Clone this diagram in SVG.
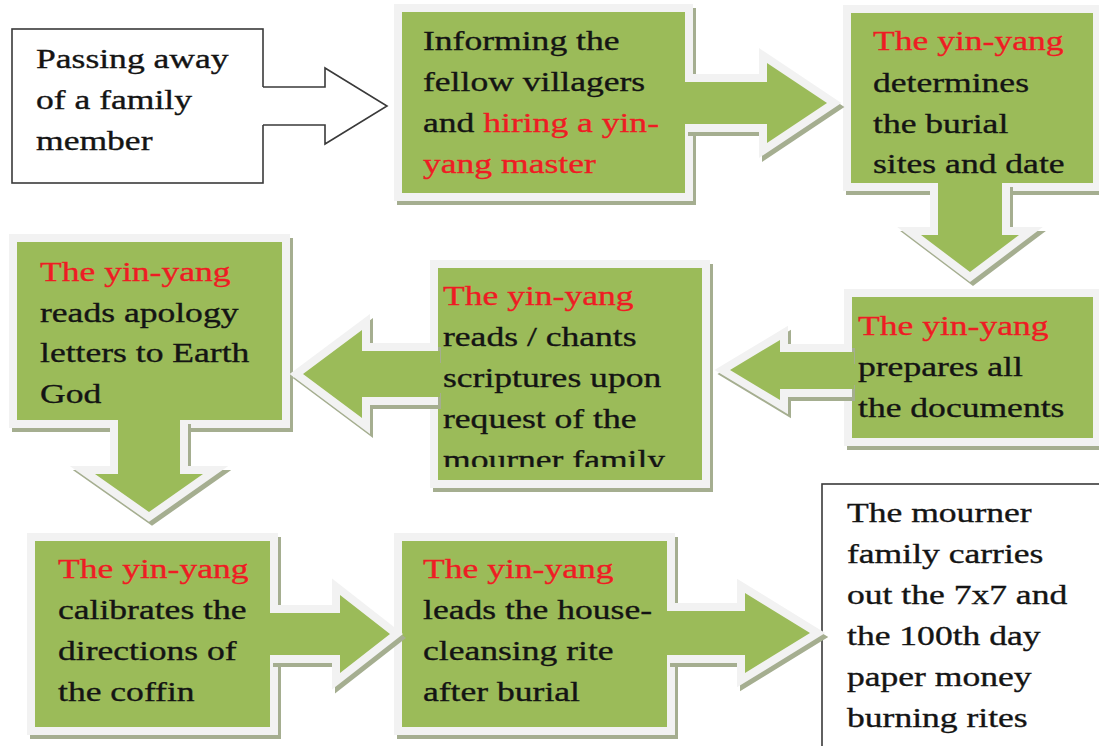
<svg xmlns="http://www.w3.org/2000/svg" width="1099" height="746" viewBox="0 0 1099 746">
<style>
.sh{fill:#a5ae90;stroke:#a5ae90;stroke-width:16;stroke-linejoin:miter}
.bd{fill:#9bbb59;stroke:#f2f2f2;stroke-width:16;stroke-linejoin:miter;paint-order:stroke}
.shl{fill:none;stroke:#a5ae90;stroke-width:16;stroke-linejoin:miter}
.bdl{fill:none;stroke:#f2f2f2;stroke-width:16;stroke-linejoin:miter}
.gf{fill:#9bbb59;stroke:none}
.wb{fill:#ffffff;stroke:#3a3a3a;stroke-width:1.6}
.t{font-family:"Liberation Serif","Times New Roman",serif;font-size:28px;fill:#141414;stroke:#141414;stroke-width:0.35}
.r{fill:#ee1c24;stroke:#ee1c24}
</style>
<defs>
<clipPath id="clip5"><rect x="430" y="268" width="280" height="199"/></clipPath>
</defs>
<rect width="1099" height="746" fill="#ffffff"/>

<g id="node1">
<rect class="wb" x="12" y="29" width="251" height="154"/>
<text class="t" transform="translate(36,0) scale(1.27,1)"><tspan x="0" y="68">Passing away</tspan><tspan x="0" y="109">of a family</tspan><tspan x="0" y="150">member</tspan></text>
</g>

<g id="node2">
<rect class="sh" x="405" y="16" width="283" height="181"/>
<rect class="bd" x="402" y="12" width="283" height="181"/>
<text class="t" transform="translate(423,0) scale(1.27,1)"><tspan x="0" y="50">Informing the</tspan><tspan x="0" y="91">fellow villagers</tspan><tspan x="0" y="132">and <tspan class="r">hiring a yin-</tspan></tspan><tspan x="0" y="173" class="r">yang master</tspan></text>
</g>

<g id="node3">
<rect class="sh" x="854" y="17" width="242" height="170"/>
<rect class="bd" x="851" y="13" width="242" height="170"/>
<text class="t" transform="translate(873,0) scale(1.27,1)"><tspan x="0" y="50" class="r">The yin-yang</tspan><tspan x="0" y="92">determines</tspan><tspan x="0" y="133">the burial</tspan><tspan x="0" y="173">sites and date</tspan></text>
</g>

<g id="node4">
<rect class="sh" x="855" y="301" width="241" height="141"/>
<rect class="bd" x="852" y="297" width="241" height="141"/>
<text class="t" transform="translate(858,0) scale(1.27,1)"><tspan x="0" y="335" class="r">The yin-yang</tspan><tspan x="0" y="376">prepares all</tspan><tspan x="0" y="417">the documents</tspan></text>
</g>

<g id="node5">
<rect class="sh" x="441" y="272" width="264" height="212"/>
<rect class="bd" x="438" y="268" width="264" height="212"/>
<g clip-path="url(#clip5)">
<text class="t" transform="translate(443,0) scale(1.27,1)"><tspan x="0" y="305" class="r">The yin-yang</tspan><tspan x="0" y="346">reads / chants</tspan><tspan x="0" y="387">scriptures upon</tspan><tspan x="0" y="428">request of the</tspan><tspan x="0" y="469">mourner family</tspan></text>
</g>
</g>

<g id="node6">
<rect class="sh" x="20" y="246" width="265" height="178"/>
<rect class="bd" x="17" y="242" width="265" height="178"/>
<text class="t" transform="translate(40,0) scale(1.27,1)"><tspan x="0" y="281" class="r">The yin-yang</tspan><tspan x="0" y="322">reads apology</tspan><tspan x="0" y="362">letters to Earth</tspan><tspan x="0" y="403">God</tspan></text>
</g>

<g id="node7">
<rect class="sh" x="38" y="545" width="235" height="186"/>
<rect class="bd" x="35" y="541" width="235" height="186"/>
<text class="t" transform="translate(58,0) scale(1.27,1)"><tspan x="0" y="578" class="r">The yin-yang</tspan><tspan x="0" y="619">calibrates the</tspan><tspan x="0" y="660">directions of</tspan><tspan x="0" y="701">the coffin</tspan></text>
</g>

<g id="node8">
<rect class="sh" x="405" y="545" width="265" height="186"/>
<rect class="bd" x="402" y="541" width="265" height="186"/>
<text class="t" transform="translate(423,0) scale(1.27,1)"><tspan x="0" y="578" class="r">The yin-yang</tspan><tspan x="0" y="619">leads the house-</tspan><tspan x="0" y="660">cleansing rite</tspan><tspan x="0" y="701">after burial</tspan></text>
</g>

<g id="node9">
<rect class="wb" x="822" y="484" width="300" height="300"/>
<text class="t" transform="translate(847,0) scale(1.27,1)"><tspan x="0" y="522">The mourner</tspan><tspan x="0" y="563">family carries</tspan><tspan x="0" y="604">out the 7x7 and</tspan><tspan x="0" y="645">the 100th day</tspan><tspan x="0" y="686">paper money</tspan><tspan x="0" y="727">burning rites</tspan></text>
</g>

<g id="connectors">
<path d="M261,87 H325 V68 L387,106 L325,144 V125 H261 Z" fill="#ffffff"/>
<path d="M263,87 H325 V68 L387,106 L325,144 V125 H263" fill="none" stroke="#3a3a3a" stroke-width="1.6" stroke-linejoin="miter"/>

<path class="shl" transform="translate(3,4)" d="M685,82 H767 V63 L827,103 L767,143 V124 H685"/>
<path class="bdl" d="M685,82 H767 V63 L827,103 L767,143 V124 H685"/>
<path class="gf" d="M683,82 H767 V63 L827,103 L767,143 V124 H683 Z"/>

<path class="shl" transform="translate(3,4)" d="M1002,183 V235 H1019 L970,272 L921,235 H938 V183"/>
<path class="bdl" d="M1002,183 V235 H1019 L970,272 L921,235 H938 V183"/>
<path class="gf" d="M1002,181 V235 H1019 L970,272 L921,235 H938 V181 Z"/>

<path class="shl" transform="translate(3,4)" d="M852,352 H780 V340 L730,370 L780,400 V389 H852"/>
<path class="bdl" d="M852,352 H780 V340 L730,370 L780,400 V389 H852"/>
<path class="gf" d="M854,352 H780 V340 L730,370 L780,400 V389 H854 Z"/>

<path class="shl" transform="translate(3,4)" d="M438,351 H362 V330 L303,374 L362,418 V397 H438"/>
<path class="bdl" d="M438,351 H362 V330 L303,374 L362,418 V397 H438"/>
<path class="gf" d="M440,351 H362 V330 L303,374 L362,418 V397 H440 Z"/>

<path class="shl" transform="translate(3,4)" d="M180,420 V474 H203 L149,512 L95,474 H118 V420"/>
<path class="bdl" d="M180,420 V474 H203 L149,512 L95,474 H118 V420"/>
<path class="gf" d="M180,418 V474 H203 L149,512 L95,474 H118 V418 Z"/>

<path class="shl" transform="translate(3,4)" d="M270,613 H340 V595 L390,634 L340,673 V655 H270"/>
<path class="bdl" d="M270,613 H340 V595 L390,634 L340,673 V655 H270"/>
<path class="gf" d="M268,613 H340 V595 L390,634 L340,673 V655 H268 Z"/>

<path class="shl" transform="translate(3,4)" d="M667,611 H745 V593 L810,633 L745,673 V655 H667"/>
<path class="bdl" d="M667,611 H745 V593 L810,633 L745,673 V655 H667"/>
<path class="gf" d="M665,611 H745 V593 L810,633 L745,673 V655 H665 Z"/>
</g>
</svg>
